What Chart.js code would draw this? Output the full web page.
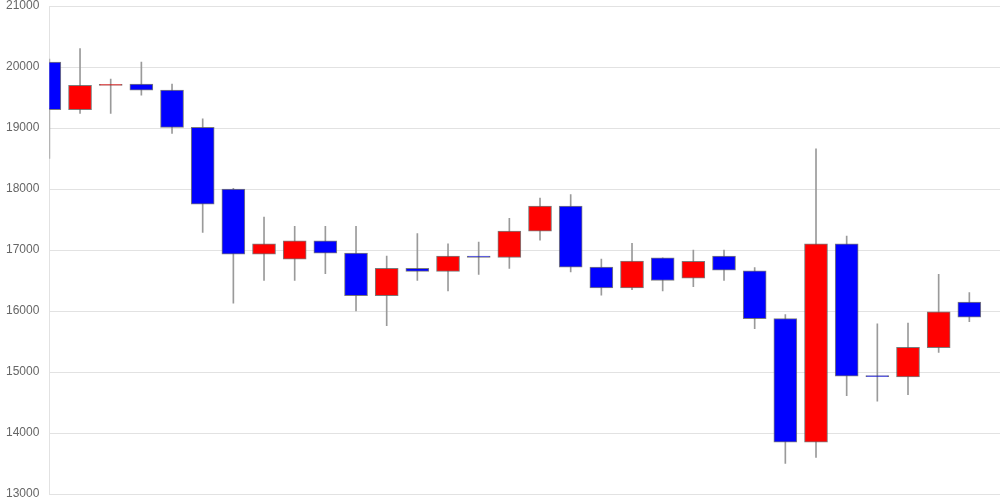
<!DOCTYPE html>
<html lang="en">
<head>
  <meta charset="UTF-8" />
  <title>Candlestick</title>
  <script src="https://cdn.jsdelivr.net/npm/chart.js"></script>
  <style>
    html, body { margin: 0; padding: 0; background: #fff; }
    #wrap { width: 1000px; height: 500px; }
  </style>
</head>
<body>
  <div id="wrap"><canvas id="candleChart"></canvas></div>

  <script>
    // one entry per trading session
    const opens  = [20080, 19300, 19700, 19720, 19620, 19010, 18000, 16930, 16850, 17150,
                    16950, 16250, 16700, 16650, 16900, 16880, 17310, 17720, 16720, 16380,
                    16870, 16540, 16900, 16660, 15875, 13850, 17100, 14940, 14920, 15400, 16145];
    const closes = [19300, 19700, 19715, 19620, 19010, 17750, 16930, 17100, 17150, 16950,
                    16250, 16700, 16650, 16900, 16880, 17310, 17720, 16720, 16380, 16820,
                    16500, 16815, 16670, 15875, 13850, 17100, 14930, 14925, 15405, 15985, 15900];
    const highs  = [20130, 20300, 19800, 20080, 19720, 19150, 18010, 17540, 17390, 17390,
                    17390, 16900, 17270, 17100, 17130, 17520, 17850, 17910, 16850, 17110,
                    16870, 17000, 17000, 16710, 15940, 18660, 17230, 15790, 15800, 16600, 16300];
    const lows   = [18500, 19240, 19240, 19540, 18910, 17290, 16130, 16500, 16500, 16610,
                    16000, 15760, 16500, 16330, 16600, 16700, 17160, 16640, 16260, 16350,
                    16330, 16400, 16500, 15710, 13500, 13600, 14610, 14520, 14630, 15320, 15825];
    const yTicks = [13000, 14000, 15000, 16000, 17000, 18000, 19000, 20000, 21000];

    // extra empty slot at the end so the last candle sits one step from the edge
    const labels = opens.map((_, i) => String(i)).concat(['']);

    const bodies = opens.map((o, i) => [o, closes[i]]);
    const wicks = lows.map((l, i) => [l, highs[i]]);
    const bodyColors = opens.map((o, i) => closes[i] >= o ? '#ff0000' : '#0000ff');

    new Chart(document.getElementById('candleChart'), {
      type: 'bar',
      data: {
        labels: labels,
        datasets: [
          {
            label: 'body',
            data: bodies,
            backgroundColor: bodyColors,
            borderColor: 'rgba(90, 90, 90, 0.8)',
            borderWidth: 1,
            borderSkipped: false,
            barThickness: 23,
            grouped: false,
            order: 0
          },
          {
            label: 'wick',
            data: wicks,
            backgroundColor: '#9a9a9a',
            borderWidth: 0,
            barThickness: 1,
            grouped: false,
            order: 1
          }
        ]
      },
      options: {
        responsive: true,
        maintainAspectRatio: false,
        animation: false,
        layout: { padding: { left: 6, top: 0, bottom: 0 } },
        plugins: {
          legend: { display: false },
          tooltip: { enabled: false }
        },
        scales: {
          x: {
            display: false,
            offset: false,
            grid: { display: false }
          },
          y: {
            min: 13000,
            max: 21000,
            afterBuildTicks: axis => { axis.ticks = yTicks.map(v => ({ value: v })); },
            ticks: {
              color: '#666',
              font: { size: 12, lineHeight: 1 },
              padding: 0,
              callback: v => String(v)
            },
            grid: { color: '#e2e2e2', tickLength: 10, tickColor: 'rgba(0,0,0,0)' },
            border: { color: '#e2e2e2' }
          }
        }
      }
    });
  </script>
</body>
</html>
